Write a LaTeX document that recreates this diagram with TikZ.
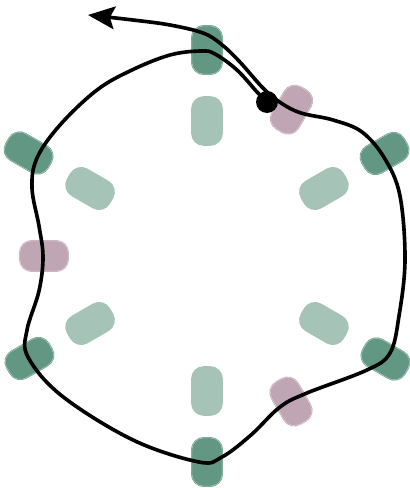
\documentclass[tikz,border=0pt]{standalone}
\usepackage{xcolor}
\usepackage{tikz}
\usetikzlibrary{arrows.meta}

\definecolor{leafdark}{RGB}{98,152,131}
\definecolor{leaflight}{RGB}{166,195,184}
\definecolor{mauve}{RGB}{192,165,181}

\tikzset{
  pill/.style={rectangle, rounded corners=3.6mm, inner sep=0pt,
    minimum width=14.5mm, minimum height=9.1mm},
  gloss/.style={pill, draw=#1, fill=#1, line width=0.5pt,
    double=white!55!#1, double distance=0.35pt},
  outerpill/.style={gloss=leafdark},
  innerpill/.style={pill, fill=leaflight, draw=leaflight, line width=1.2pt},
  oddpill/.style={gloss=mauve},
}

\begin{document}
\begin{tikzpicture}[x=0.3mm, y=0.3mm]
  \useasboundingbox (-207,-232) rectangle (202,256);
  % Outer ring of pills
  \node[outerpill, rotate=90]  (outN)  at (90:206)  {};
  \node[outerpill, rotate=30]  (outNE) at (30:205)  {};
  \node[outerpill, rotate=-30] (outSE) at (-30:206) {};
  \node[outerpill, rotate=-90] (outS)  at (-90:206) {};
  \node[outerpill, rotate=210] (outSW) at (210:205) {};
  \node[outerpill, rotate=150] (outNW) at (150:206) {};
  % Inner ring of pills
  \node[innerpill, rotate=90]  (inN)  at (90:135)  {};
  \node[innerpill, rotate=30]  (inNE) at (30:135)  {};
  \node[innerpill, rotate=-30] (inSE) at (-30:135) {};
  \node[innerpill, rotate=-90] (inS)  at (-90:135) {};
  \node[innerpill, rotate=210] (inSW) at (210:135) {};
  \node[innerpill, rotate=150] (inNW) at (150:135) {};
  % Odd pills in between
  \node[oddpill, rotate=60]  (oddNE) at (60:169)  {};
  \node[oddpill, rotate=-60] (oddSE) at (-60:168) {};
  \node[oddpill, rotate=180] (oddW)  at (180:163) {};
  % Loop that winds once round and leaves
  \draw[line width=3.1pt, line cap=round,
        -{Stealth[length=8mm, width=6.8mm, inset=1.4mm]}]
    plot[smooth, tension=0.6] coordinates {
      (60,154) (50,164) (30,186) (8,202) (-6,205) (-37,201) (-75,186)
      (-110,166) (-147,131) (-170,98) (-175,68) (-168,30) (-164,-1)
      (-168,-35) (-180,-74) (-179,-101) (-145,-140) (-74,-184) (-8,-206)
      (15,-201) (44,-179) (73,-151) (100,-137) (160,-114) (183,-97)
      (192,-60) (198,-4) (193,60) (178,97) (155,124) (126,136) (94,143)
      (74,153) (56,168) (32,195) (14,212) (-4,223) (-37,231) (-74,236)
      (-119,241)};
  % Starting point
  \node[circle, fill=black, inner sep=0pt, minimum size=6.6mm] (start) at (60,154) {};
\end{tikzpicture}
\end{document}
